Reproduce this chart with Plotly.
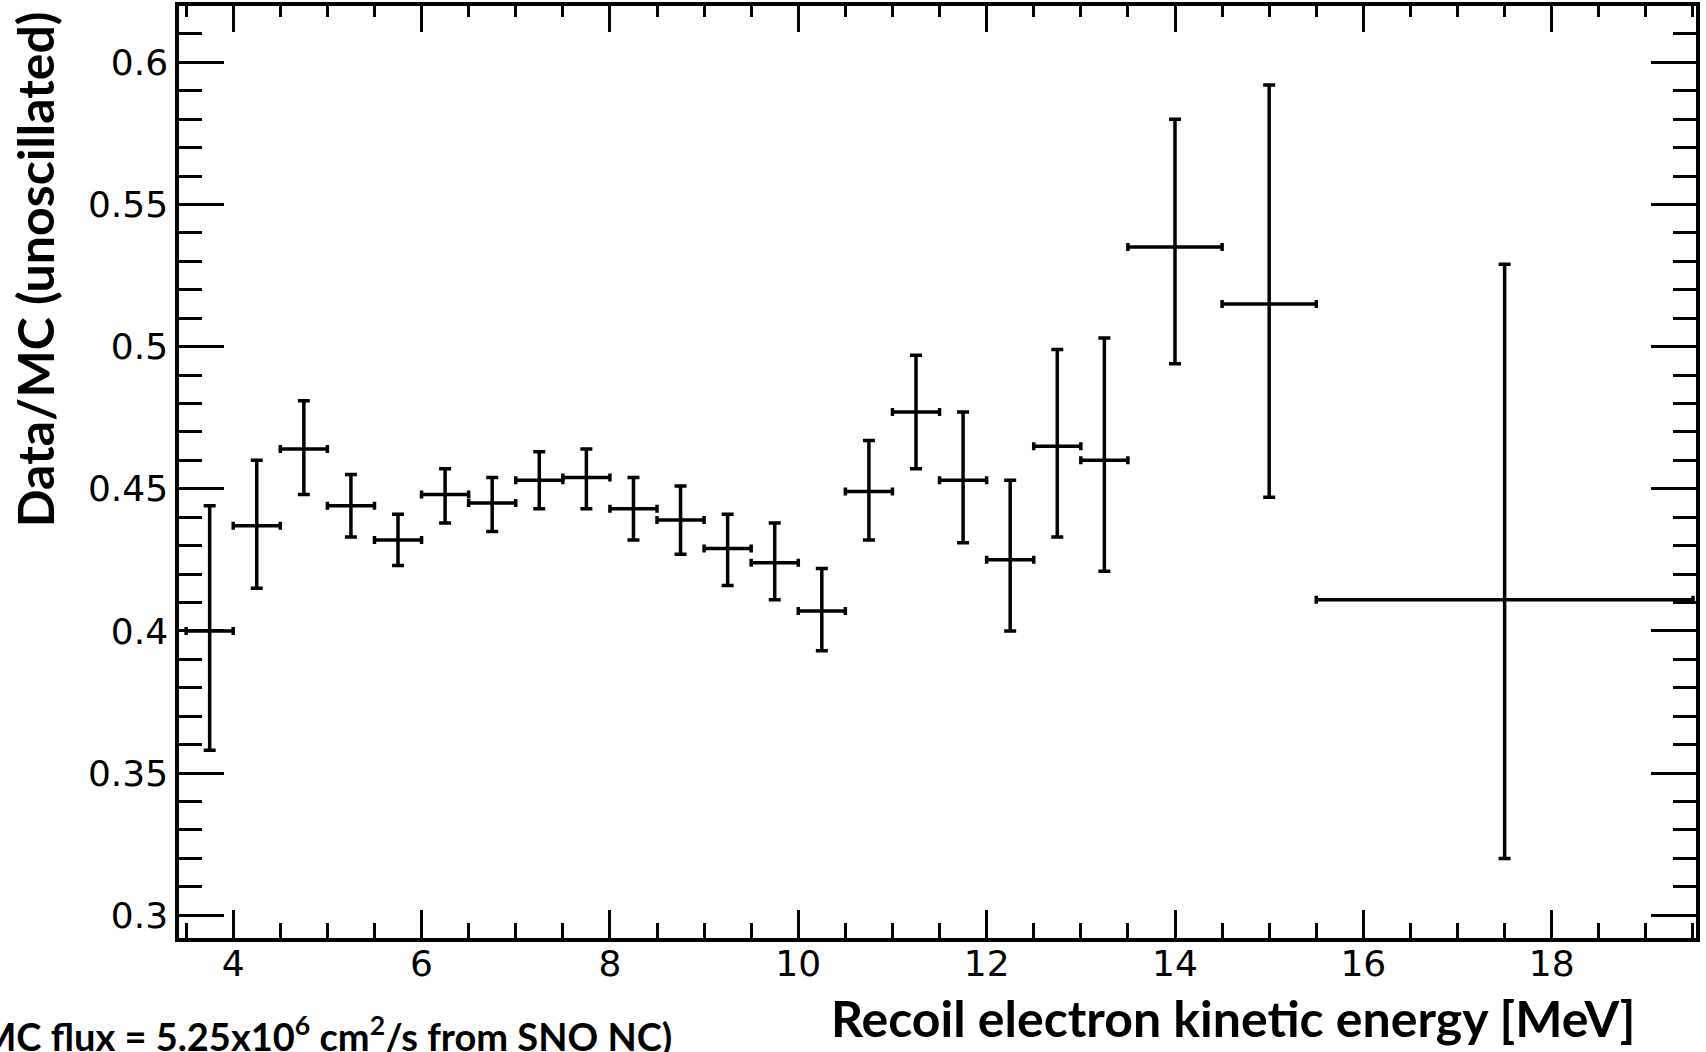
import plotly.graph_objects as go

# Energy bins [MeV]: centre and half-width
energy = [3.75, 4.25, 4.75, 5.25, 5.75, 6.25, 6.75, 7.25, 7.75, 8.25,
          8.75, 9.25, 9.75, 10.25, 10.75, 11.25, 11.75, 12.25, 12.75, 13.25,
          14.0, 15.0, 17.5]
bin_half_width = [0.25, 0.25, 0.25, 0.25, 0.25, 0.25, 0.25, 0.25, 0.25, 0.25,
                  0.25, 0.25, 0.25, 0.25, 0.25, 0.25, 0.25, 0.25, 0.25, 0.25,
                  0.5, 0.5, 2.0]

# Data / MC (unoscillated) ratio with upper and lower errors
ratio = [0.400, 0.437, 0.464, 0.444, 0.432, 0.448, 0.445, 0.453, 0.454, 0.443,
         0.439, 0.429, 0.424, 0.407, 0.449, 0.477, 0.453, 0.425, 0.465, 0.460,
         0.535, 0.515, 0.411]
err_up = [0.044, 0.023, 0.017, 0.011, 0.009, 0.009, 0.009, 0.010, 0.010, 0.011,
          0.012, 0.012, 0.014, 0.015, 0.018, 0.020, 0.024, 0.028, 0.034, 0.043,
          0.045, 0.077, 0.118]
err_down = [0.042, 0.022, 0.016, 0.011, 0.009, 0.010, 0.010, 0.010, 0.011, 0.011,
            0.012, 0.013, 0.013, 0.014, 0.017, 0.020, 0.022, 0.025, 0.032, 0.039,
            0.041, 0.068, 0.091]

y_tick_vals = [0.3, 0.35, 0.4, 0.45, 0.5, 0.55, 0.6]
y_tick_text = ["0.3", "0.35", "0.4", "0.45", "0.5", "0.55", "0.6"]
x_tick_vals = [4, 6, 8, 10, 12, 14, 16, 18]
x_tick_text = ["4", "6", "8", "10", "12", "14", "16", "18"]

x_title = "Recoil electron kinetic energy [MeV]"
y_title = "Data/MC (unoscillated)"
footnote = "(MC flux = 5.25x10<sup>6</sup> cm<sup>2</sup>/s from SNO NC)"

W, H = 1706, 1052
L, R, T, B = 179, 7, 6, 114
X_RANGE = [3.4245, 19.532]
Y_RANGE = [0.292, 0.6198]

plot_w = W - L - R
plot_h = H - T - B


def px_to_paper_x(px):
    return (px - L) / plot_w


def px_to_paper_y(py):
    return (H - B - py) / plot_h


title_font = dict(family="Lato", size=50, color="black")
tick_font = dict(family="DejaVu Sans", size=36, color="black")
line_w = 3.5

fig = go.Figure()

fig.add_trace(go.Scatter(
    x=energy, y=ratio,
    mode="markers",
    marker=dict(size=1, color="black"),
    error_x=dict(type="data", array=bin_half_width, color="black",
                 thickness=line_w, width=4),
    error_y=dict(type="data", symmetric=False, array=err_up,
                 arrayminus=err_down, color="black", thickness=line_w, width=6),
    showlegend=False, hoverinfo="skip",
))

# anchor trace for the top (mirror) x axis
fig.add_trace(go.Scatter(
    x=[energy[0]], y=[ratio[0]], xaxis="x2", mode="markers",
    marker=dict(opacity=0), showlegend=False, hoverinfo="skip",
))

fig.update_layout(
    width=W, height=H,
    margin=dict(l=L, r=R, t=T, b=B),
    paper_bgcolor="white", plot_bgcolor="white",
    xaxis=dict(
        range=X_RANGE, showgrid=False, zeroline=False,
        showline=True, linecolor="black", linewidth=line_w,
        ticks="inside", ticklen=28, tickwidth=3, tickcolor="black",
        tickmode="array", tickvals=x_tick_vals, ticktext=x_tick_text,
        tickfont=tick_font, ticklabelstandoff=-9,
        minor=dict(ticks="inside", ticklen=15, tickwidth=3, tickcolor="black",
                   dtick=0.5, tick0=0, showgrid=False),
    ),
    xaxis2=dict(
        range=X_RANGE, overlaying="x", side="top", anchor="y",
        showgrid=False, zeroline=False,
        showline=True, linecolor="black", linewidth=line_w,
        ticks="inside", ticklen=26, tickwidth=3, tickcolor="black",
        tickmode="array", tickvals=x_tick_vals, showticklabels=False,
        minor=dict(ticks="inside", ticklen=11, tickwidth=3, tickcolor="black",
                   dtick=0.5, tick0=0, showgrid=False),
    ),
    yaxis=dict(
        range=Y_RANGE, showgrid=False, zeroline=False,
        showline=True, linecolor="black", linewidth=line_w, mirror="ticks",
        ticks="inside", ticklen=45, tickwidth=3, tickcolor="black",
        tickmode="array", tickvals=y_tick_vals, ticktext=y_tick_text,
        tickfont=tick_font,
        minor=dict(ticks="inside", ticklen=23, tickwidth=3, tickcolor="black",
                   dtick=0.01, tick0=0, showgrid=False),
    ),
    annotations=[
        dict(text="<b>%s</b>" % x_title, xref="paper", yref="paper",
             x=px_to_paper_x(1235), y=px_to_paper_y(1018),
             xanchor="center", yanchor="middle", showarrow=False,
             font=title_font),
        dict(text="<b>%s</b>" % y_title, xref="paper", yref="paper",
             x=px_to_paper_x(35), y=px_to_paper_y(269),
             xanchor="center", yanchor="middle", textangle=-90,
             showarrow=False, font=title_font),
        dict(text="<b>%s</b>" % footnote, xref="paper", yref="paper",
             x=px_to_paper_x(675), y=px_to_paper_y(1034),
             xanchor="right", yanchor="middle", showarrow=False,
             font=dict(family="Lato", size=38, color="black")),
    ],
)

fig.write_html("out.html")
